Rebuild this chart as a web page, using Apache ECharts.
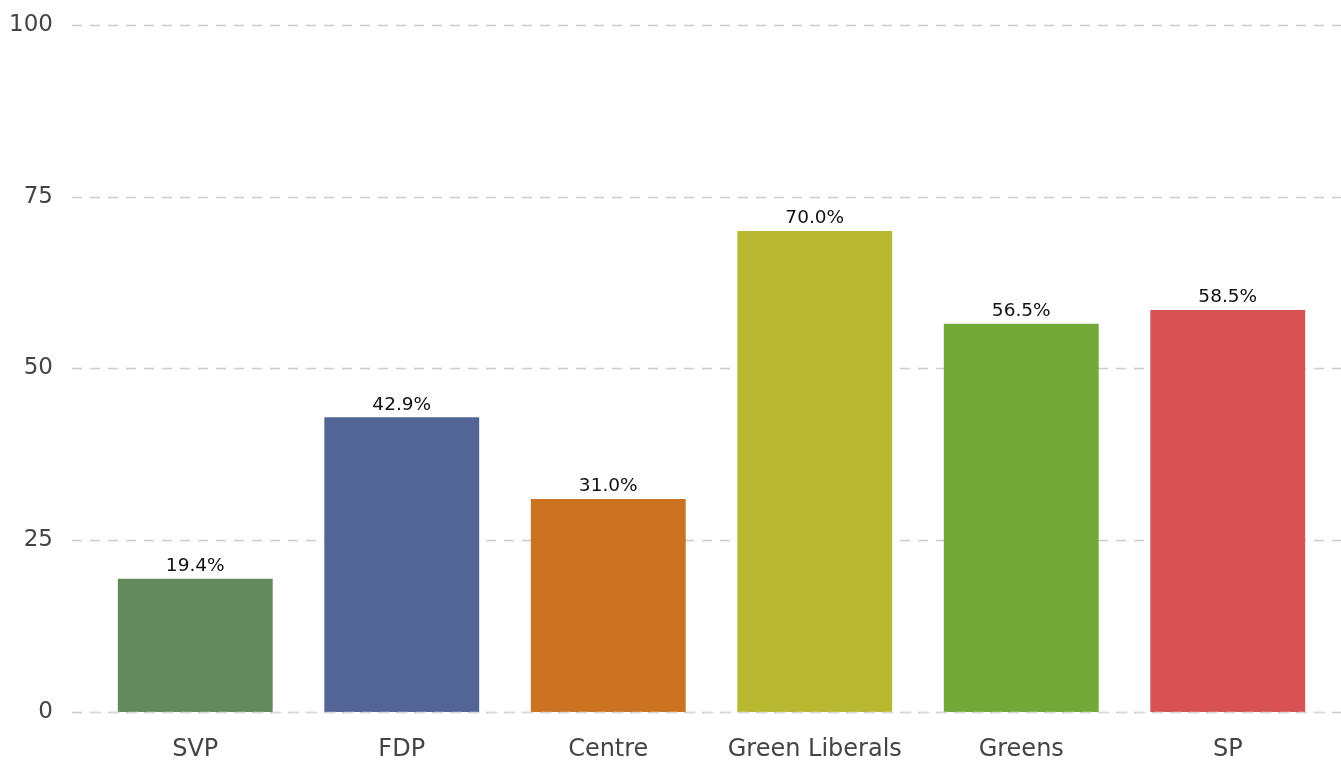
<!DOCTYPE html>
<html><head><meta charset="utf-8">
<script src="https://cdn.jsdelivr.net/npm/echarts@6/dist/echarts.min.js"></script>
<style>html,body{margin:0;padding:0;background:#fff}#c{width:1341px;height:762px}</style>
</head><body><div id="c"></div>
<script>
const categories = ['SVP','FDP','Centre','Green Liberals','Greens','SP'];
const values = [19.4, 42.9, 31.0, 70.0, 56.5, 58.5];
const colors = ['#628a5c','#536597','#cc7322','#b8b930','#74a838','#d85153'];
const yTicks = [0, 25, 50, 75, 100];

const chart = echarts.init(document.getElementById('c'));
const font = '"DejaVu Sans", "Noto Sans", sans-serif';
chart.setOption({
  animation: false,
  grid: [
    {left: 72, right: 0, top: 25, bottom: 50},
    {left: 92, right: 10, top: 25, bottom: 50}
  ],
  xAxis: [
    {gridIndex: 0, type: 'value', min: 0, max: 1, show: false},
    {gridIndex: 1, type: 'category', data: categories,
     axisLine: {show: false}, axisTick: {show: false},
     axisLabel: {color: '#444', fontSize: 24, fontFamily: font, margin: 26, interval: 0, hideOverlap: false}}
  ],
  yAxis: [
    {gridIndex: 0, type: 'value', min: 0, max: 100, interval: 25,
     axisLine: {show: false}, axisTick: {show: false},
     axisLabel: {color: '#444', fontSize: 23, fontFamily: font, margin: 19,
       formatter: v => yTicks.includes(v) ? String(v) : ''},
     splitLine: {show: true, lineStyle: {color: '#cccccc', type: [10, 8], width: 1.3}}},
    {gridIndex: 1, type: 'value', min: 0, max: 100, interval: 25, show: false,
     splitLine: {show: false}}
  ],
  series: [{
    type: 'bar', xAxisIndex: 1, yAxisIndex: 1,
    barWidth: '75%',
    data: values.map((v, i) => ({value: v, itemStyle: {color: colors[i]}})),
    label: {show: true, position: 'top', distance: 3, color: '#111', fontSize: 18.5, fontFamily: font,
      formatter: p => p.value.toFixed(1) + '%'},
    markLine: {silent: true, symbol: 'none', label: {show: false}, z: 5,
      lineStyle: {color: '#dddddd', type: [10, 8], width: 1.3, opacity: 0.8},
      data: [{yAxis: 0}]}
  }]
});
</script></body></html>
